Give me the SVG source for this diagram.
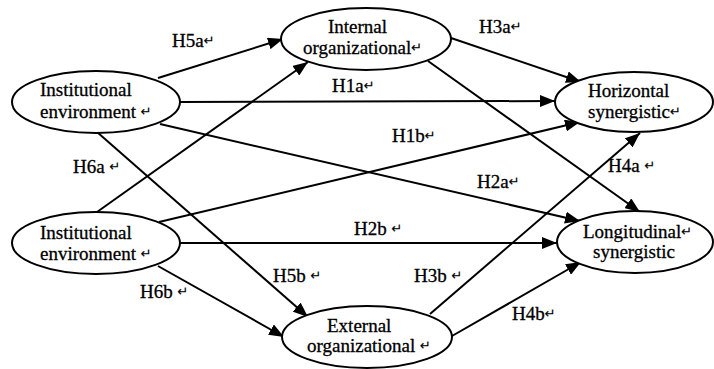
<svg xmlns="http://www.w3.org/2000/svg" width="714" height="369" viewBox="0 0 714 369">
<style>
.n{fill:#fff;stroke:#000;stroke-width:2}
.t{font-family:"Liberation Serif","Times New Roman",serif;font-size:19px;fill:#000;stroke:#000;stroke-width:0.3}
.r{font-family:"DejaVu Sans",sans-serif;font-size:13px;stroke-width:0.2;baseline-shift:2px}
.c line{stroke:#000;stroke-width:2;marker-end:url(#ah)}
</style>
<defs>
<marker id="ah" markerUnits="userSpaceOnUse" markerWidth="16" markerHeight="12" refX="15" refY="6" orient="auto">
<path d="M0,0 L15,6 L0,12 z" fill="#000"/>
</marker>
</defs>
<rect width="714" height="369" fill="#fff"/>
<g id="connectors" class="c">
<line x1="158" y1="78" x2="283" y2="39"/>
<line x1="97" y1="212" x2="308" y2="62"/>
<line x1="180" y1="102" x2="555" y2="101"/>
<line x1="160" y1="124" x2="580" y2="221"/>
<line x1="97" y1="132" x2="308" y2="317"/>
<line x1="159" y1="222" x2="580" y2="122"/>
<line x1="180" y1="243" x2="557" y2="243"/>
<line x1="158" y1="266" x2="284" y2="337"/>
<line x1="451" y1="38" x2="581" y2="82"/>
<line x1="428" y1="61" x2="640" y2="212"/>
<line x1="430" y1="314" x2="640" y2="133"/>
<line x1="452" y1="336" x2="581" y2="262"/>
</g>
<g id="labels" class="t">
<text x="172" y="47">H5a<tspan class="r">↵</tspan></text>
<text x="332" y="92">H1a<tspan class="r">↵</tspan></text>
<text x="479" y="33">H3a<tspan class="r">↵</tspan></text>
<text x="73" y="173">H6a <tspan class="r">↵</tspan></text>
<text x="392" y="142">H1b<tspan class="r">↵</tspan></text>
<text x="477" y="188">H2a<tspan class="r">↵</tspan></text>
<text x="608" y="172">H4a <tspan class="r">↵</tspan></text>
<text x="354" y="235">H2b <tspan class="r">↵</tspan></text>
<text x="273" y="282">H5b <tspan class="r">↵</tspan></text>
<text x="414" y="282">H3b <tspan class="r">↵</tspan></text>
<text x="140" y="298">H6b <tspan class="r">↵</tspan></text>
<text x="512" y="320">H4b<tspan class="r">↵</tspan></text>
</g>
<g id="inst1">
<ellipse class="n" cx="96" cy="102" rx="84" ry="31"/>
<text class="t" x="40" y="96">Institutional</text>
<text class="t" x="40" y="118">environment <tspan class="r">↵</tspan></text>
</g>
<g id="inst2">
<ellipse class="n" cx="96" cy="243" rx="84" ry="31"/>
<text class="t" x="40" y="239">Institutional</text>
<text class="t" x="40" y="260">environment <tspan class="r">↵</tspan></text>
</g>
<g id="internal">
<ellipse class="n" cx="366" cy="39" rx="85" ry="31"/>
<text class="t" x="328" y="33">Internal</text>
<text class="t" x="303" y="54">organizational<tspan class="r">↵</tspan></text>
</g>
<g id="external">
<ellipse class="n" cx="367" cy="337" rx="85" ry="31"/>
<text class="t" x="327" y="332">External</text>
<text class="t" x="307" y="352">organizational <tspan class="r">↵</tspan></text>
</g>
<g id="horizontal">
<ellipse class="n" cx="634" cy="102" rx="79" ry="30"/>
<text class="t" x="588" y="97">Horizontal</text>
<text class="t" x="588" y="118">synergistic<tspan class="r">↵</tspan></text>
</g>
<g id="longitudinal">
<ellipse class="n" cx="635" cy="242" rx="78" ry="31"/>
<text class="t" x="583" y="238">Longitudinal<tspan class="r">↵</tspan></text>
<text class="t" x="593" y="258">synergistic</text>
</g>
</svg>
